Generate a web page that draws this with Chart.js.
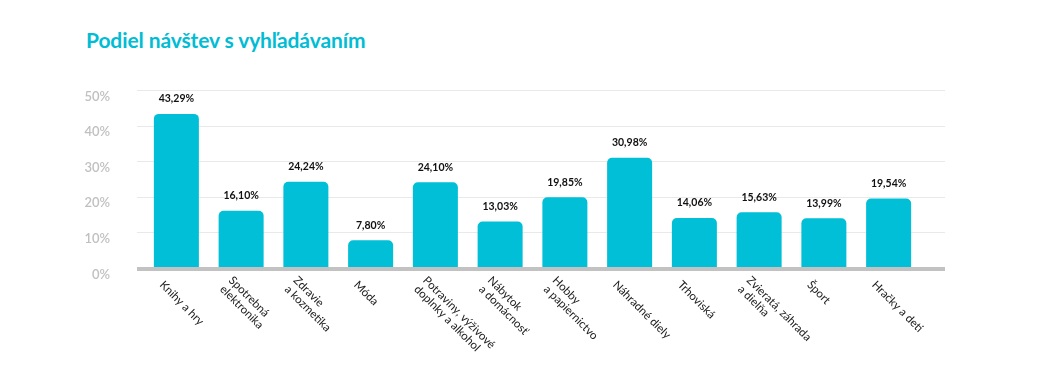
<!DOCTYPE html>
<html>
<head>
<meta charset="utf-8">
<script src="https://cdn.jsdelivr.net/npm/chart.js@4"></script>
<style>
  html, body { margin: 0; padding: 0; background: #fff; }
  #wrap { position: relative; width: 1044px; height: 383px; }
  #title { position: absolute; left: 86px; top: 27px; margin: 0; font-family: Lato, "Open Sans", sans-serif; font-weight: 700; font-size: 21px; color: #00bcd4; letter-spacing: -0.1px; }
  canvas { position: absolute; left: 0; top: 0; }
</style>
</head>
<body>
<div id="wrap">
  <h1 id="title">Podiel návštev s vyhľadávaním</h1>
  <canvas id="c" width="1044" height="383"></canvas>
</div>
<script>
const categories = [
  "Knihy a hry",
  ["Spotrebná", "elektronika"],
  ["Zdravie", "a kozmetika"],
  "Móda",
  ["Potraviny, výživové", "doplnky a alkohol"],
  ["Nábytok", "a domácnosť"],
  ["Hobby", "a papiernictvo"],
  "Náhradné diely",
  "Trhoviská",
  ["Zvieratá, záhrada", "a dielňa"],
  "Šport",
  "Hračky a deti"
];
const values = [43.29, 16.10, 24.24, 7.80, 24.10, 13.03, 19.85, 30.98, 14.06, 15.63, 13.99, 19.54];
const yTicks = [0, 10, 20, 30, 40, 50];

const fmt = v => v.toFixed(2).replace('.', ',') + '%';

const customDraw = {
  id: 'customDraw',
  beforeDatasetsDraw(chart) {
    const ctx = chart.ctx, y = chart.scales.y, a = chart.chartArea;
    ctx.save();
    ctx.strokeStyle = '#e9e9e9';
    ctx.lineWidth = 1;
    yTicks.forEach(t => {
      if (t === 0) return;
      const py = Math.round(y.getPixelForValue(t)) + 0.5;
      ctx.beginPath();
      ctx.moveTo(a.left - 7, py);
      ctx.lineTo(a.right + 24, py);
      ctx.stroke();
    });
    ctx.restore();
  },
  afterDatasetsDraw(chart) {
    const ctx = chart.ctx, y = chart.scales.y, x = chart.scales.x, a = chart.chartArea;
    ctx.save();
    const py = y.getPixelForValue(0);
    ctx.fillStyle = '#c2c2c2';
    ctx.fillRect(a.left - 7, py - 1, a.right + 24 - (a.left - 7), 4);
    const meta = chart.getDatasetMeta(0);
    ctx.fillStyle = '#111';
    ctx.font = '700 10.5px Lato, "Open Sans", sans-serif';
    ctx.textAlign = 'center';
    ctx.textBaseline = 'middle';
    meta.data.forEach((bar, i) => {
      ctx.fillText(fmt(values[i]), bar.x, bar.y - 15);
    });
    ctx.fillStyle = '#222';
    ctx.font = '400 11.5px Lato, "Open Sans", sans-serif';
    ctx.textAlign = 'left';
    ctx.textBaseline = 'middle';
    const lh = 12.5;
    categories.forEach((lab, i) => {
      const lines = Array.isArray(lab) ? lab : [lab];
      const tx = x.getPixelForValue(i);
      ctx.save();
      ctx.translate(tx, py);
      ctx.rotate(Math.PI / 4);
      const start = 21 - (lines.length - 1) * lh / 2;
      lines.forEach((ln, k) => {
        ctx.fillText(ln, 0, start + k * lh);
      });
      ctx.restore();
    });
    ctx.restore();
  }
};

new Chart(document.getElementById('c'), {
  type: 'bar',
  data: {
    labels: categories.map(l => Array.isArray(l) ? l.join(' ') : l),
    datasets: [{
      data: values,
      backgroundColor: '#00bfd6',
      borderRadius: { topLeft: 5, topRight: 5, bottomLeft: 0, bottomRight: 0 },
      borderSkipped: 'bottom',
      barPercentage: 0.695,
      categoryPercentage: 1
    }]
  },
  options: {
    responsive: false,
    animation: false,
    devicePixelRatio: 1,
    layout: { padding: { left: 0, right: 123, top: 90, bottom: 115 } },
    plugins: { legend: { display: false }, tooltip: { enabled: false }, title: { display: false } },
    scales: {
      x: {
        grid: { display: false },
        border: { display: false },
        ticks: { display: false },
        afterFit: s => { s.height = 0; }
      },
      y: {
        min: 0, max: 50,
        afterFit: s => { s.width = 144; },
        grid: { display: false },
        border: { display: false },
        ticks: {
          stepSize: 10,
          padding: 26,
          labelOffset: 6.5,
          color: '#c0c0c0',
          font: { family: 'Lato, "Open Sans", sans-serif', size: 13, weight: '600' },
          callback: v => v + '%'
        }
      }
    }
  },
  plugins: [customDraw]
});
</script>
</body>
</html>
